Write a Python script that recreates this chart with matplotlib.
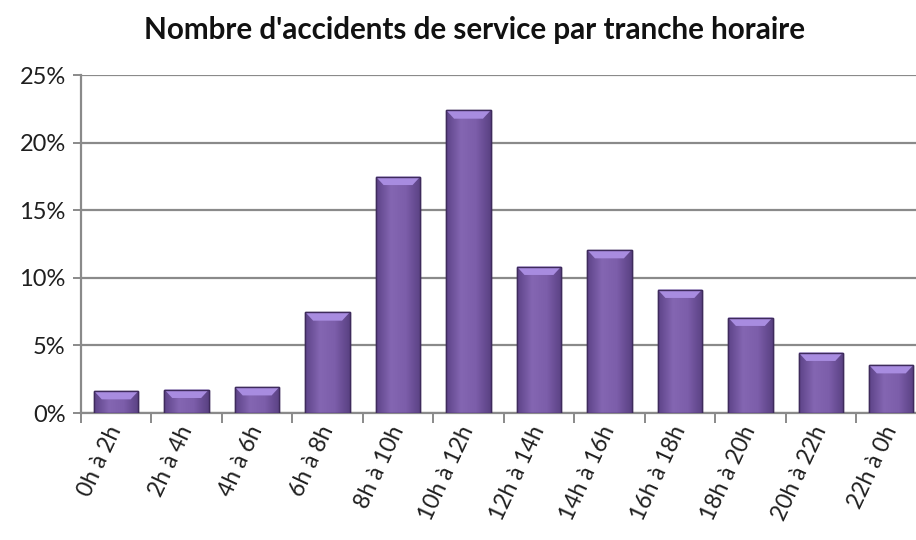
import numpy as np
import matplotlib.pyplot as plt
from matplotlib.colors import LinearSegmentedColormap
from matplotlib.patches import Polygon
from matplotlib.ticker import PercentFormatter, FixedLocator

plt.rcParams['font.family'] = ['Lato', 'DejaVu Sans']

# Données
tranches = ['0h à 2h', '2h à 4h', '4h à 6h', '6h à 8h', '8h à 10h', '10h à 12h',
            '12h à 14h', '14h à 16h', '16h à 18h', '18h à 20h', '20h à 22h', '22h à 0h']
parts = [0.0163, 0.0173, 0.0192, 0.0745, 0.1748, 0.2239,
         0.1083, 0.1206, 0.0913, 0.0706, 0.0447, 0.0355]

fig = plt.figure(figsize=(9.16, 5.4), dpi=100)
ax = fig.add_axes([81 / 916, 127 / 540, 845.5 / 916, 338 / 540])

x = np.arange(len(tranches))
largeur = 0.63
bars = ax.bar(x, parts, width=largeur, color='#7657a2', edgecolor='#3e2b5c',
              linewidth=1.0, zorder=3)

# dégradé horizontal + biseau en haut
cmap = LinearSegmentedColormap.from_list('violet', ['#5d4388', '#8466b2', '#7c5eaa', '#5a4183'])
grad = np.linspace(0, 1, 64).reshape(1, -1)
for b in bars:
    x0, w, h = b.get_x(), b.get_width(), b.get_height()
    im = ax.imshow(grad, cmap=cmap, aspect='auto', extent=(x0, x0 + w, 0, h),
                   zorder=3.5, interpolation='bicubic')
    im.set_clip_path(b)
    dx, dy = 0.11, 0.0062
    ax.add_patch(Polygon([(x0, h), (x0 + w, h), (x0 + w - dx, h - dy), (x0 + dx, h - dy)],
                         closed=True, facecolor='#a88ce0', edgecolor='none', zorder=4))
    ax.add_patch(Polygon([(x0, h), (x0 + w, h), (x0 + w, 0), (x0, 0)], closed=True,
                         facecolor='none', edgecolor='#3e2b5c', linewidth=1.0, zorder=4.5))

ax.set_xlim(-0.5, len(tranches) - 0.5)
ax.set_ylim(0, 0.25)
ax.set_yticks(np.arange(0, 0.2501, 0.05))
ax.yaxis.set_major_formatter(PercentFormatter(1.0, decimals=0))
ax.yaxis.grid(True, color='#8a8a8a', linewidth=1.6, zorder=1)
ax.set_axisbelow(True)

ax.xaxis.set_major_locator(FixedLocator(np.arange(-0.5, len(tranches), 1.0)))
ax.xaxis.set_major_formatter(plt.NullFormatter())
ax.xaxis.set_minor_locator(FixedLocator(x))
ax.set_xticklabels(tranches, minor=True, rotation=65, ha='right', va='center',
                   rotation_mode='anchor', fontsize=16.5, color='#1f1f1f')
ax.tick_params(axis='x', which='minor', length=0, pad=10)
ax.tick_params(axis='x', which='major', length=7, width=1.4, color='#8a8a8a')
ax.tick_params(axis='y', length=6, width=1.4, color='#8a8a8a', labelsize=17,
               labelcolor='#1f1f1f', pad=5)

for s in ['top', 'right']:
    ax.spines[s].set_visible(False)
for s in ['left', 'bottom']:
    ax.spines[s].set_color('#8a8a8a')
    ax.spines[s].set_linewidth(1.6)

fig.text(0.518, 0.945, "Nombre d'accidents de service par tranche horaire",
         ha='center', va='center', fontsize=21.3, fontweight='bold', color='#111111')

fig.savefig('out.png', dpi=100)
